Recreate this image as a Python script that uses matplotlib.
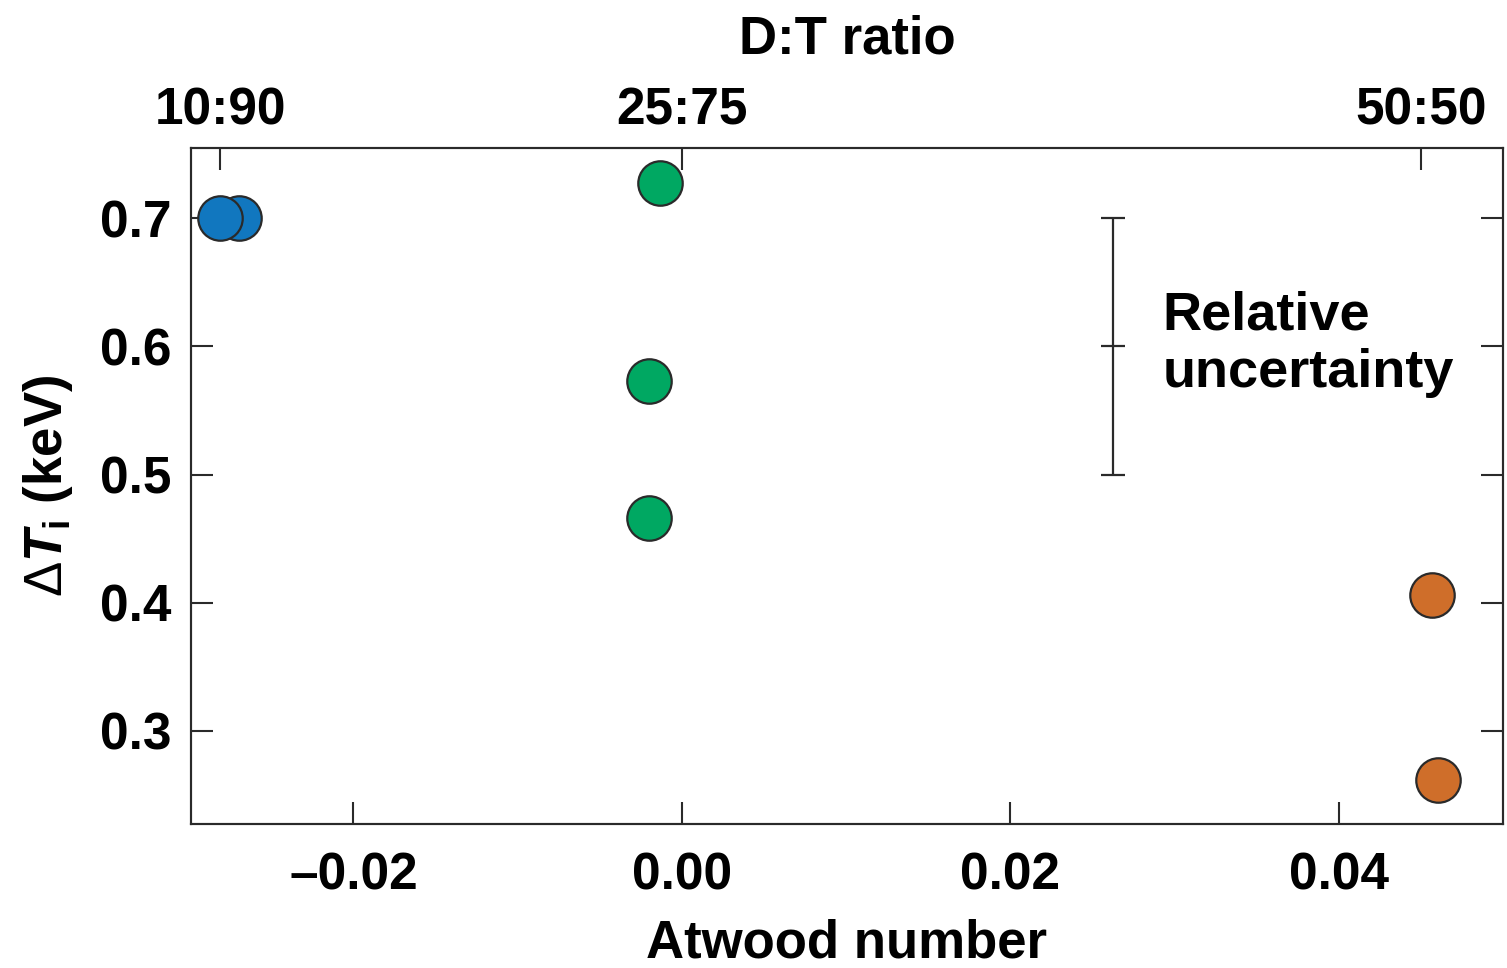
import matplotlib
matplotlib.use("Agg")
import matplotlib.pyplot as plt

plt.rcParams['font.family'] = ['Liberation Sans', 'DejaVu Sans']
plt.rcParams['font.weight'] = 'bold'
plt.rcParams['mathtext.fontset'] = 'custom'
plt.rcParams['mathtext.rm'] = 'Liberation Sans:weight=normal'
plt.rcParams['mathtext.it'] = 'Liberation Sans:bold:italic'
plt.rcParams['mathtext.bf'] = 'Liberation Sans:bold'

# data
blue_x = [-0.0270, -0.02816]
blue_y = [0.700, 0.700]
green_x = [-0.00134, -0.00201, -0.00201]
green_y = [0.7273, 0.5727, 0.4657]
orange_x = [0.04566, 0.04603]
orange_y = [0.4062, 0.2618]

bottom_ticks = [-0.02, 0.00, 0.02, 0.04]
bottom_labels = ['\u20130.02', '0.00', '0.02', '0.04']
top_ticks = [-0.0281, 0.0, 0.0450]
top_labels = ['10:90', '25:75', '50:50']
y_ticks = [0.3, 0.4, 0.5, 0.6, 0.7]

err_x = 0.02627
err_center = 0.6
err_half = 0.1

dark = '#2a2a2a'
fig = plt.figure(figsize=(15.07, 9.68), dpi=100)
ax = fig.add_axes([0.1267, 0.1488, 0.8706, 0.6983])

for xs, ys, c in [(blue_x, blue_y, '#1177bf'),
                  (green_x, green_y, '#00a862'),
                  (orange_x, orange_y, '#cf6e2a')]:
    ax.plot(xs, ys, 'o', ms=32, mfc=c, mec=dark, mew=1.6, zorder=3)

ax.errorbar([err_x], [err_center], yerr=[err_half], fmt='_', ms=17, mew=1.6,
            color=dark, ecolor=dark, elinewidth=1.6, capsize=8.5, capthick=1.6)
ax.text(0.02925, 0.6016, 'Relative\nuncertainty', fontsize=39, fontweight='bold',
        va='center', ha='left', linespacing=1.2)

ax.set_xlim(-0.0299, 0.0500)
ax.set_ylim(0.2275, 0.7546)
ax.set_xticks(bottom_ticks)
ax.set_xticklabels(bottom_labels)
ax.set_yticks(y_ticks)
ax.set_yticklabels(['%.1f' % v for v in y_ticks])
ax.tick_params(axis='both', direction='in', length=16, width=1.5, color=dark,
               labelsize=37)
ax.tick_params(axis='x', pad=20)
ax.tick_params(axis='y', pad=14, right=True)
for s in ax.spines.values():
    s.set_linewidth(1.5)
    s.set_color(dark)

ax.set_xlabel('Atwood number', fontsize=38, fontweight='bold', labelpad=13)
ax.set_ylabel(r'$\Delta\mathit{T}_{\mathbf{i}}$ (keV)', fontsize=38,
              fontweight='bold', labelpad=18)

top = ax.twiny()
top.set_xlim(ax.get_xlim())
top.set_xticks(top_ticks)
top.set_xticklabels(top_labels)
top.tick_params(axis='x', direction='in', length=16, width=1.5, color=dark,
                labelsize=37, pad=9)
top.set_xlabel('D:T ratio', fontsize=38, fontweight='bold', labelpad=24)
for s in top.spines.values():
    s.set_linewidth(1.5)
    s.set_color(dark)

fig.savefig('out.png', dpi=100)
